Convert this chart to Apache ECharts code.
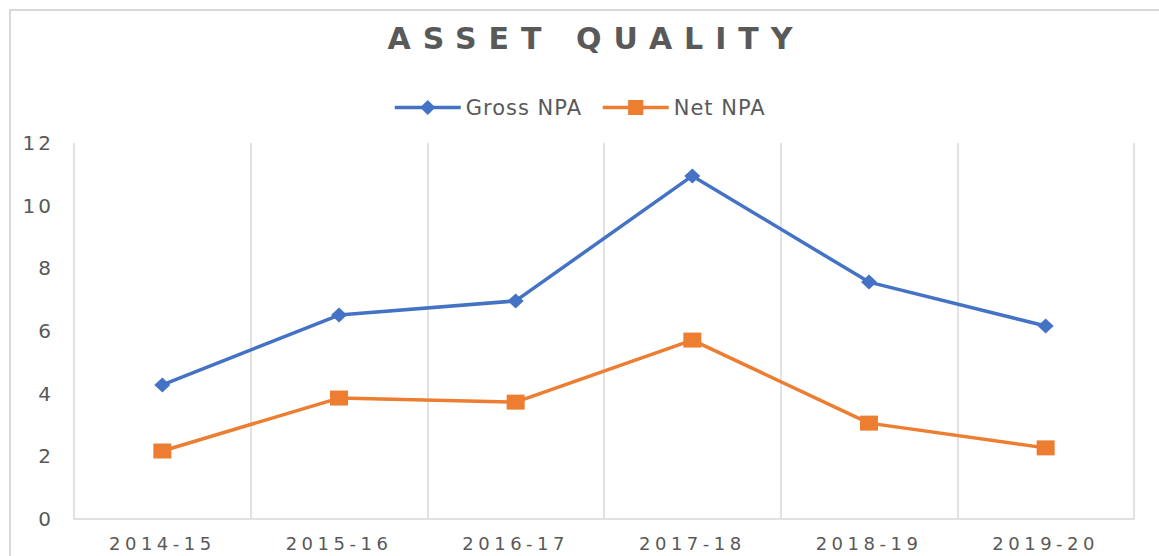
<!DOCTYPE html>
<html>
<head>
<meta charset="utf-8">
<script src="https://cdn.jsdelivr.net/npm/echarts@6/dist/echarts.min.js"></script>
<style>
  html, body { margin: 0; padding: 0; background: #fff; }
  #chart { width: 1159px; height: 556px; }
</style>
</head>
<body>
<div id="chart"></div>
<script>
// asset quality chart
const years = ['2014-15', '2015-16', '2016-17', '2017-18', '2018-19', '2019-20'];
const grossNpa = [4.28, 6.51, 6.96, 10.95, 7.56, 6.16];
const netNpa = [2.17, 3.86, 3.73, 5.71, 3.06, 2.27];
const seriesNames = ['Gross NPA', 'Net NPA'];
const titleText = 'ASSET QUALITY';

const textColor = '#595959';
const gridColor = '#d9d9d9';
const font = 'DejaVu Sans';

const chart = echarts.init(document.getElementById('chart'), null, { renderer: 'svg' });

const option = {
  animation: false,
  backgroundColor: '#fff',
  graphic: [{
    type: 'rect',
    silent: true,
    shape: { x: 10, y: 10, width: 1200, height: 600 },
    style: { fill: 'none', stroke: gridColor, lineWidth: 2 }
  }],
  title: {
    text: titleText,
    left: 591,
    top: 18,
    textAlign: 'center',
    textStyle: { fontFamily: font, fontWeight: 'bold', fontSize: 30, color: textColor }
  },
  legend: {
    data: seriesNames,
    left: 388,
    top: 92,
    itemWidth: 66,
    itemHeight: 19,
    itemGap: 28,
    lineStyle: { width: 3.5 },
    textStyle: { fontFamily: font, fontSize: 21, color: textColor }
  },
  grid: { left: 74, right: 25, top: 143, bottom: 37 },
  xAxis: {
    type: 'category',
    data: years,
    boundaryGap: true,
    axisLine: { lineStyle: { color: gridColor, width: 1.5 } },
    axisTick: { show: false },
    axisLabel: { fontFamily: font, fontSize: 18, color: textColor, margin: 15 },
    splitLine: { show: true, lineStyle: { color: gridColor, width: 1.5 } }
  },
  yAxis: {
    type: 'value',
    min: 0,
    max: 12,
    interval: 2,
    axisLine: { show: false },
    axisTick: { show: false },
    splitLine: { show: false },
    axisLabel: { fontFamily: font, fontSize: 20, color: textColor, margin: 20 }
  },
  series: [
    {
      name: seriesNames[0],
      type: 'line',
      data: grossNpa,
      symbol: 'diamond',
      symbolSize: [16, 15],
      itemStyle: { color: '#4472c4' },
      lineStyle: { color: '#4472c4', width: 3.5 }
    },
    {
      name: seriesNames[1],
      type: 'line',
      data: netNpa,
      symbol: 'rect',
      symbolSize: [18, 15],
      itemStyle: { color: '#ed7d31' },
      lineStyle: { color: '#ed7d31', width: 3.5 }
    }
  ]
};

chart.setOption(option);

// widen the spaced-out text like the original
function spaceText() {
  document.querySelectorAll('#chart text').forEach(t => {
    const s = t.textContent;
    if (s === titleText) t.style.letterSpacing = '12px';
    else if (years.includes(s)) t.style.letterSpacing = '4.5px';
    else if (/^\d+$/.test(s)) t.style.letterSpacing = '3px';
    else if (seriesNames.includes(s)) t.style.letterSpacing = '1px';
  });
}
spaceText();
chart.on('finished', spaceText);
</script>
</body>
</html>
